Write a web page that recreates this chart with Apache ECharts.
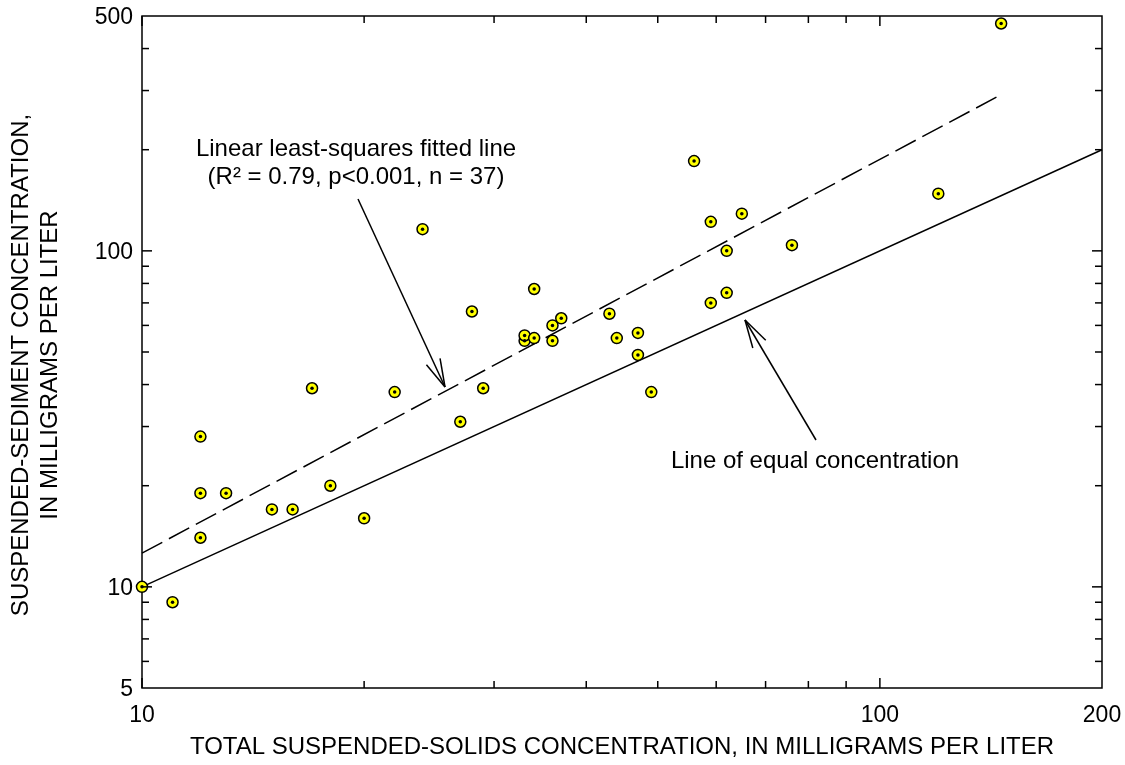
<!DOCTYPE html>
<html><head><meta charset="utf-8">
<script src="https://cdn.jsdelivr.net/npm/echarts@6/dist/echarts.min.js"></script>
<style>html,body{margin:0;padding:0;background:#fff}#c{width:1125px;height:765px}</style>
</head><body><div id="c"></div>
<script>
// Data
const tssValues = [10,11,12,12,13,12,15,16,17,18,20,22,24,27,29,28,34,33,33,34,36,36,37,43,44,47,47,49,56,59,65,62,76,62,59,120,146];
const sscValues = [10,9,28,19,19,14,17,17,39,20,16,38,116,31,39,66,77,54,56,55,60,54,63,65,55,57,49,38,185,122,129,100,104,75,70,148,475];
const equalLineX = [10, 200];
const equalLineY = [10, 200];
const fitLineX = [10, 144];
const fitLineY = [12.6, 287];
const xMajorTicks = [10, 100];
const xMinorTicks = [20,30,40,50,60,70,80,90];
const xTickLabels = ['10', '100', '200'];
const yMajorTicks = [10, 100];
const yMinorTicks = [6,7,8,9,20,30,40,50,60,70,80,90,200,300,400];
const yTickLabels = ['5', '10', '100', '500'];

const FONT = '"Liberation Sans", Arial, Helvetica, sans-serif';
const chart = echarts.init(document.getElementById('c'), null, {renderer: 'canvas'});
const pts = tssValues.map((x, i) => [x, sscValues[i]]);
const hidden = {axisLine:{show:false}, axisTick:{show:false}, axisLabel:{show:false}, splitLine:{show:false}};
chart.setOption({
  animation: false,
  backgroundColor: '#fff',
  grid: {left: 142, right: 23, top: 16, bottom: 77, show: true, borderColor: '#000', borderWidth: 1.5, backgroundColor: 'transparent'},
  xAxis: Object.assign({type: 'log', logBase: 10, min: 10, max: 200}, hidden),
  yAxis: Object.assign({type: 'log', logBase: 10, min: 5, max: 500}, hidden),
  series: [
    {type: 'line', data: equalLineX.map((x, i) => [x, equalLineY[i]]), symbol: 'none', silent: true,
     lineStyle: {color: '#000', width: 1.5}, z: 2},
    {type: 'line', data: fitLineX.map((x, i) => [x, fitLineY[i]]), symbol: 'none', silent: true,
     lineStyle: {color: '#000', width: 1.5, type: [23, 7.5]}, z: 2},
    {type: 'scatter', data: pts, symbol: 'circle', symbolSize: 11, silent: true,
     itemStyle: {color: '#ffff00', borderColor: '#000', borderWidth: 1.5, opacity: 1}, z: 3},
    {type: 'scatter', data: pts, symbol: 'circle', symbolSize: 3.5, silent: true,
     itemStyle: {color: '#000', opacity: 1}, z: 4}
  ]
});

const px = v => chart.convertToPixel({xAxisIndex: 0}, v);
const py = v => chart.convertToPixel({yAxisIndex: 0}, v);
const L = px(10), R = px(200), T = py(500), B = py(5);
const g = [];
const line = (x1, y1, x2, y2) => g.push({type: 'line', silent: true, z: 10,
  shape: {x1, y1, x2, y2}, style: {stroke: '#000', lineWidth: 1.5}});
const text = (x, y, t, size, align, valign, extra) => g.push(Object.assign({type: 'text', silent: true, z: 10, x, y,
  style: {text: t, font: size + 'px ' + FONT, fill: '#000', align: align, verticalAlign: valign}}, extra || {}));

const MAJ = 10, MIN = 7;
xMajorTicks.forEach(v => { const x = px(v); line(x, B, x, B - MAJ); line(x, T, x, T + MAJ); });
xMinorTicks.forEach(v => { const x = px(v); line(x, B, x, B - MIN); line(x, T, x, T + MIN); });
yMajorTicks.forEach(v => { const y = py(v); line(L, y, L + MAJ, y); line(R, y, R - MAJ, y); });
yMinorTicks.forEach(v => { const y = py(v); line(L, y, L + MIN, y); line(R, y, R - MIN, y); });
xTickLabels.forEach(t => text(px(+t), B + 28, t, 23, 'center', 'middle'));
yTickLabels.forEach(t => text(L - 9, py(+t) + 2, t, 23, 'right', 'middle'));

// axis titles
text((L + R) / 2, B + 59, 'TOTAL SUSPENDED-SOLIDS CONCENTRATION, IN MILLIGRAMS PER LITER', 24, 'center', 'middle');
g.push({type: 'text', silent: true, z: 10, x: 36, y: 365, rotation: Math.PI / 2,
  style: {text: 'SUSPENDED-SEDIMENT CONCENTRATION,\nIN MILLIGRAMS PER LITER', font: '24px ' + FONT,
  fill: '#000', align: 'center', verticalAlign: 'middle', lineHeight: 29}});

// annotations
text(356, 149, 'Linear least-squares fitted line', 24, 'center', 'middle');
text(356, 177, '(R\u00B2 = 0.79, p<0.001, n = 37)', 24, 'center', 'middle');
text(815, 461, 'Line of equal concentration', 24, 'center', 'middle');

function arrow(tx, ty, sx, sy) {
  line(sx, sy, tx, ty);
  const d = Math.hypot(sx - tx, sy - ty), ux = (sx - tx) / d, uy = (sy - ty) / d;
  const a = 15 * Math.PI / 180, len = 29;
  [a, -a].forEach(t => {
    const rx = ux * Math.cos(t) - uy * Math.sin(t), ry = ux * Math.sin(t) + uy * Math.cos(t);
    line(tx, ty, tx + rx * len, ty + ry * len);
  });
}
arrow(445, 387, 358, 199);
arrow(745, 320, 816, 440);

chart.setOption({graphic: g});
</script></body></html>
